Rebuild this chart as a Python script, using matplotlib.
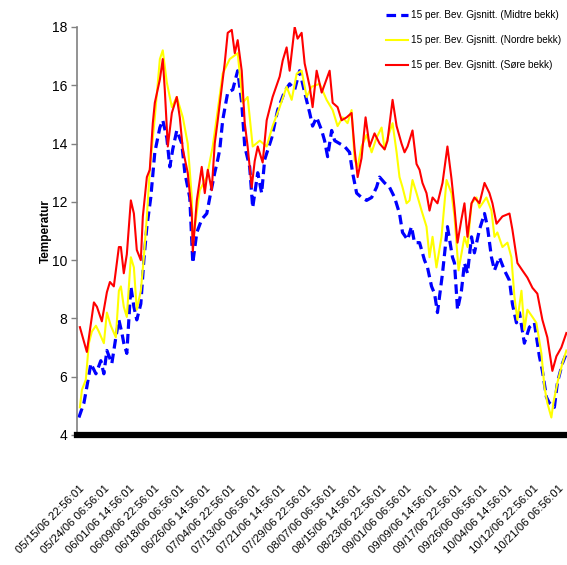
import matplotlib
matplotlib.use("Agg")
import matplotlib.pyplot as plt

# timer siden første måling (05/15/06 22:56)
soere_t = [8, 63, 119, 143, 182, 222, 246, 277, 317, 333, 356, 380, 412, 436, 459, 491, 507, 539,
           562, 586, 602, 642, 665, 681, 705, 737, 776, 800, 824, 863, 895, 903, 935, 974, 998,
           1022, 1053, 1077, 1101, 1156, 1180, 1212, 1236, 1259, 1291, 1315, 1338, 1370, 1394,
           1418, 1457, 1489, 1536, 1592, 1616, 1647, 1671, 1711, 1734, 1766, 1790, 1830, 1853,
           1885, 1925, 1988, 2012, 2051, 2083, 2123, 2162, 2186, 2210, 2241, 2273, 2305, 2344,
           2384, 2424, 2447, 2487, 2519, 2558, 2582, 2606, 2645, 2677, 2701, 2724, 2756, 2780,
           2804, 2843, 2883, 2922, 2954, 2978, 3002, 3033, 3057, 3081, 3113, 3136, 3176, 3216,
           3255, 3279, 3311, 3358, 3414, 3437, 3477, 3516, 3556, 3596, 3635, 3675, 3714, 3754,
           3786, 3825, 3865]
soere = [7.7, 6.85, 8.55, 8.4, 7.9, 8.9, 9.25, 9.1, 10.45, 10.45, 9.55, 10.2, 12.05, 11.6, 10.35,
         10.0, 11.5, 12.85, 13.1, 14.7, 15.4, 16.2, 16.9, 15.85, 13.9, 15.05, 15.6, 14.9, 13.8,
         13.0, 11.6, 10.3, 12.05, 13.2, 12.3, 13.1, 12.4, 14.0, 14.8, 16.75, 17.8, 17.9, 17.1,
         17.55, 16.5, 14.7, 13.9, 12.5, 13.4, 13.9, 13.35, 14.8, 15.6, 16.3, 16.85, 17.3, 16.5,
         18.0, 17.6, 17.8, 16.75, 15.95, 15.25, 16.5, 15.75, 16.5, 15.4, 15.25, 14.8, 14.9, 15.05,
         13.8, 12.85, 13.5, 14.9, 13.9, 14.35, 14.0, 13.8, 14.1, 15.5, 14.6, 14.0, 13.7, 13.9,
         14.45, 13.3, 13.1, 12.65, 12.3, 11.7, 12.15, 11.95, 12.65, 13.9, 12.8, 11.8, 10.6, 11.4,
         11.95, 10.8, 11.95, 12.15, 11.95, 12.65, 12.3, 11.95, 11.25, 11.5, 11.6, 11.05, 9.9,
         9.65, 9.4, 9.05, 8.85, 7.95, 7.35, 6.2, 6.7, 7.0, 7.5]

nordre_t = [8, 24, 55, 79, 103, 135, 158, 198, 222, 253, 293, 317, 333, 356, 380, 412, 436, 459,
            491, 515, 539, 562, 602, 642, 665, 697, 737, 776, 824, 863, 895, 903, 958, 1014, 1061,
            1101, 1140, 1196, 1259, 1299, 1338, 1378, 1434, 1489, 1536, 1592, 1647, 1687, 1727,
            1766, 1806, 1845, 1909, 1964, 2012, 2051, 2091, 2130, 2162, 2186, 2210, 2241, 2281,
            2321, 2360, 2400, 2424, 2447, 2487, 2519, 2542, 2566, 2598, 2622, 2645, 2677, 2717,
            2756, 2780, 2804, 2835, 2875, 2915, 2954, 2978, 3010, 3057, 3081, 3113, 3152, 3176,
            3231, 3271, 3295, 3318, 3358, 3398, 3429, 3453, 3477, 3509, 3532, 3556, 3596, 3627,
            3667, 3691, 3714, 3746, 3762, 3794, 3833, 3865]
nordre = [4.95, 5.55, 5.9, 7.15, 7.55, 7.75, 7.55, 7.15, 8.2, 7.75, 7.35, 8.95, 9.1, 8.4, 8.05,
          10.1, 9.75, 8.3, 8.95, 10.1, 11.5, 13.1, 14.9, 16.9, 17.2, 16.1, 15.25, 15.6, 14.9, 14.0,
          12.15, 10.6, 12.4, 12.85, 13.9, 15.15, 16.4, 16.9, 17.1, 15.4, 15.6, 13.9, 14.1, 13.9,
          14.6, 15.25, 15.95, 15.5, 16.4, 16.5, 15.6, 15.95, 16.05, 15.5, 15.15, 14.6, 14.9, 14.7,
          15.15, 13.45, 13.2, 13.9, 14.3, 13.7, 14.2, 14.55, 13.8, 14.2, 14.7, 13.7, 12.85, 12.5,
          11.95, 12.05, 12.75, 12.3, 11.7, 11.15, 10.1, 10.8, 9.75, 10.8, 12.75, 12.3, 11.5, 9.65,
          10.8, 10.45, 11.95, 12.15, 11.8, 12.15, 11.7, 10.8, 10.95, 10.45, 10.6, 10.1, 8.75,
          7.95, 8.95, 7.6, 8.3, 8.05, 7.85, 6.8, 5.65, 5.1, 4.6, 5.1, 5.8, 6.45, 6.9]

midtre_t = [0, 40, 63, 95, 135, 174, 198, 222, 261, 293, 317, 341, 356, 380, 412, 436, 459, 491,
            515, 539, 570, 602, 642, 665, 697, 721, 744, 776, 816, 840, 879, 903, 935, 974, 1014,
            1038, 1077, 1101, 1117, 1140, 1180, 1220, 1259, 1291, 1315, 1354, 1378, 1418, 1449,
            1473, 1529, 1576, 1632, 1671, 1711, 1750, 1790, 1830, 1853, 1885, 1925, 1948, 1972,
            2004, 2028, 2067, 2107, 2146, 2170, 2202, 2241, 2281, 2321, 2360, 2384, 2424, 2463,
            2503, 2542, 2566, 2606, 2637, 2661, 2701, 2740, 2764, 2796, 2820, 2843, 2883, 2922,
            2962, 2978, 3002, 3033, 3057, 3081, 3113, 3136, 3176, 3216, 3239, 3271, 3295, 3334,
            3374, 3414, 3437, 3469, 3493, 3532, 3572, 3611, 3651, 3675, 3707, 3730, 3770, 3794,
            3833, 3865]
midtre = [4.6, 5.1, 5.65, 6.45, 6.1, 6.55, 6.1, 6.9, 6.45, 7.35, 7.95, 7.5, 7.15, 6.8, 9.1, 8.4,
          7.95, 8.5, 10.0, 11.15, 12.15, 13.7, 14.55, 14.8, 14.2, 13.2, 13.8, 14.45, 14.0, 13.0,
          12.15, 9.9, 10.95, 11.4, 11.6, 12.15, 13.0, 13.45, 13.8, 14.8, 15.75, 15.85, 16.5,
          15.4, 13.9, 13.2, 11.8, 13.0, 12.3, 13.45, 14.2, 15.15, 15.8, 16.05, 15.85, 16.5,
          15.75, 15.05, 14.6, 14.9, 14.45, 14.1, 13.55, 14.45, 14.1, 14.0, 13.9, 13.7, 13.0,
          12.3, 12.15, 12.05, 12.15, 12.5, 12.85, 12.65, 12.5, 12.15, 11.6, 10.95, 10.7, 11.15,
          10.6, 10.6, 10.0, 9.75, 9.1, 8.85, 8.2, 9.55, 11.15, 10.1, 9.9, 8.3, 8.95, 9.9, 9.55,
          10.8, 10.25, 11.05, 11.6, 11.15, 10.1, 9.65, 10.1, 9.65, 9.3, 8.5, 7.85, 8.2, 7.15,
          7.7, 7.85, 6.7, 6.2, 5.3, 5.1, 4.95, 5.8, 6.45, 6.8]

tick_t = list(range(0, 3801, 200))
tick_labels = ["05/15/06 22:56:01", "05/24/06 06:56:01", "06/01/06 14:56:01", "06/09/06 22:56:01",
               "06/18/06 06:56:01", "06/26/06 14:56:01", "07/04/06 22:56:01", "07/13/06 06:56:01",
               "07/21/06 14:56:01", "07/29/06 22:56:01", "08/07/06 06:56:01", "08/15/06 14:56:01",
               "08/23/06 22:56:01", "09/01/06 06:56:01", "09/09/06 14:56:01", "09/17/06 22:56:01",
               "09/26/06 06:56:01", "10/04/06 14:56:01", "10/12/06 22:56:01", "10/21/06 06:56:01"]

plt.rcParams['font.family'] = ['Liberation Sans', 'DejaVu Sans']

fig = plt.figure(figsize=(5.67, 5.65), dpi=100)
ax = fig.add_axes([77 / 567, 1 - 435 / 565, 490 / 567, 408 / 565])

ax.plot(midtre_t, midtre, color='#0000ff', lw=2.3, ls=(0, (3, 1.6)),
        label='15 per. Bev. Gjsnitt. (Midtre bekk)')
ax.plot(nordre_t, nordre, color='#ffff00', lw=1.5, label='15 per. Bev. Gjsnitt. (Nordre bekk)')
ax.plot(soere_t, soere, color='#ff0000', lw=1.5, label='15 per. Bev. Gjsnitt. (Søre bekk)')

ax.set_xlim(-15, 3870)
ax.set_ylim(4, 18)
ax.set_yticks([4, 6, 8, 10, 12, 14, 16, 18])
ax.set_xticks(tick_t)
ax.set_xticklabels(tick_labels, rotation=45, ha='right', va='top', rotation_mode='anchor')

for s in ['top', 'right']:
    ax.spines[s].set_visible(False)
ax.spines['left'].set_color('#808080')
ax.spines['left'].set_linewidth(1.2)
ax.spines['bottom'].set_color('black')
ax.spines['bottom'].set_linewidth(4.5)

ax.tick_params(axis='y', direction='out', length=4, width=1, color='#808080', labelsize=10, pad=3)
ax.tick_params(axis='x', length=0, labelsize=8.2, pad=35)

ax.set_ylabel('Temperatur', fontsize=8.5, fontweight='bold')
ax.yaxis.set_label_coords(-0.051, 0.5)

ax.legend(loc='upper left', bbox_to_anchor=(386 / 567, 1 - 10 / 565), bbox_transform=fig.transFigure,
          frameon=False, fontsize=7.2, handlelength=2.2, handletextpad=0.3, labelspacing=1.5,
          borderaxespad=0, borderpad=0)

fig.savefig('out.png', dpi=100)
